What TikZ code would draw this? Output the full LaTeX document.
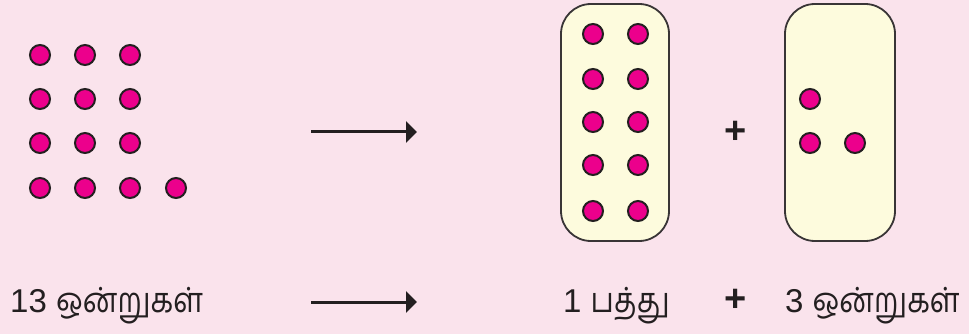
\documentclass[tikz,border=0pt]{standalone}
\usepackage{fontspec}
\setmainfont{Liberation Sans}
\newfontfamily\tamil[Script=Tamil,Scale=1.05,FakeStretch=0.85]{Hind Madurai}
\usetikzlibrary{arrows.meta}
\definecolor{bgpink}{HTML}{FAE3EC}
\definecolor{boxyellow}{HTML}{FDFBDD}
\definecolor{dotpink}{HTML}{EC008C}
\definecolor{inkdark}{HTML}{231F20}
\begin{document}
\begin{tikzpicture}[x=1pt,y=-1pt,
  dot/.style={circle,fill=dotpink,draw=inkdark,line width=2pt,minimum size=20pt,inner sep=0pt},
  groupbox/.style={fill=boxyellow,draw=inkdark!90,line width=1.8pt,rounded corners=30pt},
  label/.style={font=\fontsize{33}{36}\selectfont,inner sep=0pt,text=inkdark},
  plussign/.style={font=\fontsize{38}{40}\selectfont\bfseries,inner sep=0pt,text=inkdark},
  conn/.style={-{Triangle[length=11pt,width=21pt]},line width=3pt,draw=inkdark}]
\fill[bgpink] (0,0) rectangle (969,334);
\useasboundingbox (0,0) rectangle (969,334);
% thirteen ones
\foreach \r/\y in {1/55,2/99,3/143}
  \foreach \c/\x in {1/40,2/85,3/130}
    \node[dot] (one-\r-\c) at (\x,\y) {};
\foreach \c/\x in {1/40,2/85,3/130,4/176}
  \node[dot] (one-4-\c) at (\x,188) {};
% ten and three
\draw[groupbox] (561,4) rectangle (669,241);
\draw[groupbox] (785,4) rectangle (895,241);
\foreach \r/\y in {1/34,2/79,3/122,4/165,5/211}
  \foreach \c/\x in {1/593,2/638}
    \node[dot] (ten-\r-\c) at (\x,\y) {};
\node[dot] (three-1) at (810,99) {};
\node[dot] (three-2) at (810,143) {};
\node[dot] (three-3) at (855,143) {};
\node[plussign] (plus-top) at (736,132) {+};
% arrows
\coordinate (a-start) at (311,132);
\coordinate (a-end) at (417,132);
\draw[conn] (a-start) -- (a-end);
\coordinate (b-start) at (311,302);
\coordinate (b-end) at (417,302);
\draw[conn] (b-start) -- (b-end);
% labels
\node[label,anchor=base west] (ones-all) at (10,312) {13 {\tamil ஒன்றுகள்}};
\node[label,anchor=base west] (tens) at (563,312) {1 {\tamil பத்து}};
\node[plussign,anchor=base] (plus-bottom) at (736,311) {+};
\node[label,anchor=base west] (ones-rest) at (785,312) {3 {\tamil ஒன்றுகள்}};
\end{tikzpicture}
\end{document}
